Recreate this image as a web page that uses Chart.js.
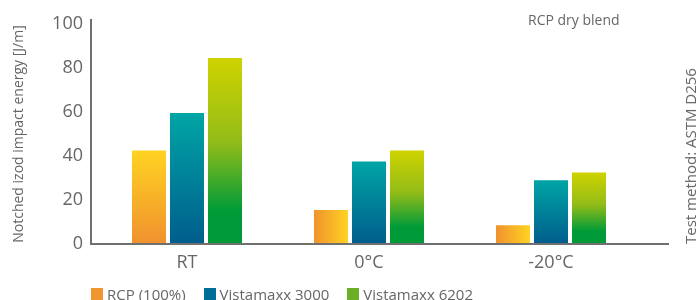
<!DOCTYPE html>
<html><head><meta charset="utf-8">
<script src="https://cdn.jsdelivr.net/npm/chart.js@4/dist/chart.umd.min.js"></script>
<style>
html,body{margin:0;padding:0;background:#fff;}
#wrap{position:relative;width:696px;height:300px;font-family:"Open Sans",sans-serif;color:#666;overflow:hidden;}
#c{position:absolute;left:0;top:0;}
#legend{position:absolute;left:91px;top:285px;display:flex;font-size:15px;line-height:18px;white-space:nowrap;}
.item{display:flex;align-items:center;margin-right:18px;}
.box{width:12px;height:12px;margin-right:4px;}
#note{position:absolute;left:528px;top:11px;font-size:14px;line-height:18px;white-space:nowrap;}
#method{position:absolute;left:690px;top:156px;transform:translate(-50%,-50%) rotate(-90deg);font-size:15px;line-height:18px;white-space:nowrap;}
</style></head>
<body>
<div id="wrap">
<canvas id="c" width="696" height="300"></canvas>
<div id="legend"></div>
<div id="note">RCP dry blend</div>
<div id="method">Test method: ASTM D256</div>
</div>
<script>
const categories = ['RT', '0°C', '-20°C'];
const seriesNames = ['RCP (100%)', 'Vistamaxx 3000', 'Vistamaxx 6202'];
const rcp100 = [42.5, 15.5, 8.5];
const vistamaxx3000 = [59.5, 37.5, 29];
const vistamaxx6202 = [84.5, 42.5, 32.5];
const yTicks = [0, 20, 40, 60, 80, 100];
const yTitle = 'Notched izod impact energy [J/m]';

const legendColors = ['#F0962E', '#006E96', '#6CAE25'];
const gradStops = [
  [[0, '#FFD322'], [1, '#F0912F']],
  [[0, '#00A5A6'], [1, '#005D8C']],
  [[0, '#CFD300'], [0.45, '#93BC18'], [0.82, '#009B38'], [1, '#009A38']]
];
const orangeHoriz = [[0, '#F0922E'], [1, '#FFD322']];

const legend = document.getElementById('legend');
seriesNames.forEach((n, i) => {
  const it = document.createElement('div'); it.className = 'item';
  const b = document.createElement('div'); b.className = 'box'; b.style.background = legendColors[i];
  const t = document.createElement('span'); t.textContent = n;
  it.appendChild(b); it.appendChild(t); legend.appendChild(it);
});

const gradPlugin = {
  id: 'grad',
  beforeDatasetsDraw(chart) {
    const c = chart.ctx;
    chart.data.datasets.forEach((ds, di) => {
      const meta = chart.getDatasetMeta(di);
      meta.data.forEach(el => {
        const top = Math.min(el.y, el.base), bot = Math.max(el.y, el.base);
        let g, stops;
        if (di === 0 && bot - top < 50) {
          g = c.createLinearGradient(el.x - el.width / 2, 0, el.x + el.width / 2, 0);
          stops = orangeHoriz;
        } else {
          g = c.createLinearGradient(0, top, 0, bot);
          stops = gradStops[di];
        }
        stops.forEach(s => g.addColorStop(s[0], s[1]));
        el.options = Object.assign({}, el.options, { backgroundColor: g });
      });
    });
  }
};

const axisPlugin = {
  id: 'axisLines',
  afterDatasetsDraw(chart) {
    const c = chart.ctx, a = chart.chartArea;
    c.save();
    c.strokeStyle = '#707070';
    c.lineWidth = 2;
    c.beginPath();
    c.moveTo(a.left - 5, a.top - 5);
    c.lineTo(a.left - 5, a.bottom);
    c.moveTo(a.left - 6, a.bottom);
    c.lineTo(a.right + 27, a.bottom);
    c.stroke();
    c.restore();
  }
};

const datasets = [rcp100, vistamaxx3000, vistamaxx6202].map((d, i) => ({
  label: seriesNames[i],
  data: d,
  backgroundColor: legendColors[i],
  borderWidth: 0,
  categoryPercentage: 0.6264,
  barPercentage: 0.8947
}));

new Chart(document.getElementById('c'), {
  type: 'bar',
  data: { labels: categories, datasets },
  plugins: [gradPlugin, axisPlugin],
  options: {
    responsive: false,
    animation: false,
    events: [],
    layout: { padding: { left: 0, right: 54, top: 24, bottom: 26 } },
    plugins: { legend: { display: false }, tooltip: { enabled: false } },
    scales: {
      x: {
        grid: { display: false, drawTicks: false },
        border: { display: false },
        ticks: { color: '#666', font: { family: 'Open Sans', size: 18 }, padding: 8 },
        afterFit(s) { s.height = 30; }
      },
      y: {
        min: 0, max: 100,
        grid: { display: false, drawTicks: false },
        border: { display: false },
        afterBuildTicks(s) { s.ticks = yTicks.map(v => ({ value: v })); },
        ticks: { color: '#666', font: { family: 'Open Sans', size: 18 }, padding: 13 },
        title: { display: true, text: yTitle, color: '#666', font: { family: 'Open Sans', size: 14 }, padding: { top: 11, bottom: 0 } },
        afterFit(s) { s.width = 96; }
      }
    }
  }
});
</script>
</body></html>
